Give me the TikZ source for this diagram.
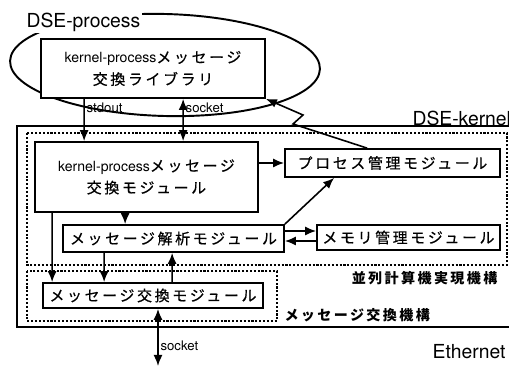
\documentclass[tikz,border=0pt]{standalone}
\usepackage{fontspec}
\setmainfont{TeX Gyre Heros}
\newfontfamily\jpfont{Noto Sans CJK JP}[Scale=1.06,LetterSpace=18,FakeBold=0.6]
\newfontfamily\jplabelfont{Noto Sans CJK JP}[LetterSpace=17]
\usetikzlibrary{arrows.meta,positioning,calc}
\newcommand{\jtxt}[1]{{\jpfont #1}}
\tikzset{
  modbox/.style 2 args={draw=black, fill=white, line width=1pt,
              minimum width=#1, minimum height=#2, inner sep=0pt,
              align=center, font=\fontsize{8}{12.5}\selectfont},
  kernelbox/.style={draw=black, line width=1.3pt},
  mechbox/.style={draw=black, densely dotted, line width=1.2pt},
  mechlbl/.style={inner sep=1pt, font=\fontsize{8}{10}\selectfont\jplabelfont\bfseries},
  tag/.style={inner sep=1pt, font=\fontsize{7.5}{8}\selectfont},
  bigtag/.style={inner sep=1pt, font=\fontsize{11}{13}\selectfont},
}

\begin{document}
\begin{tikzpicture}[>={Latex[length=2.2mm,width=1.8mm]}, line width=0.9pt]
  \useasboundingbox (0,0) rectangle (10.18,-7.34);
  \clip (0,0) rectangle (10.18,-7.34);
  % process side
  \draw[line width=1.1pt, rotate around={-1.5:(3.30,-1.30)}] (3.30,-1.30) ellipse [x radius=3.10, y radius=1.02];
  \node[bigtag, fill=white, anchor=west] (proclbl) at (0.48,-0.44) {DSE-process};
  \node[modbox={4.48cm}{1.18cm}] (lib) at (3.06,-1.37) {kernel-process\jtxt{メッセージ}\\\jtxt{交換ライブラリ}};
  % kernel frames
  \draw[kernelbox] (0.34,-2.52) rectangle (10.40,-6.54);
  \draw[mechbox] (0.54,-2.66) rectangle (10.14,-5.30);
  \draw[mechbox] (0.54,-5.42) rectangle (5.54,-6.42);
  \node[bigtag, anchor=west] (kernlbl) at (8.20,-2.36) {DSE-kernel};
  \node[mechlbl, anchor=east] (parlbl) at (10.00,-5.56) {並列計算機実現機構};
  \node[mechlbl, anchor=west] (xchglbl) at (5.64,-6.30) {メッセージ交換機構};
  % modules
  \node[modbox={4.46cm}{1.40cm}] (kpx) at (2.93,-3.54) {kernel-process\jtxt{メッセージ}\\\jtxt{交換モジュール}};
  \node[modbox={4.30cm}{0.56cm}] (proc) at (7.85,-3.26) {\jtxt{プロセス管理モジュール}};
  \node[modbox={4.42cm}{0.54cm}] (parse) at (3.47,-4.77) {\jtxt{メッセージ解析モジュール}};
  \node[modbox={3.66cm}{0.50cm}] (mem) at (8.17,-4.75) {\jtxt{メモリ管理モジュール}};
  \node[modbox={4.40cm}{0.50cm}] (msgx) at (3.06,-5.91) {\jtxt{メッセージ交換モジュール}};
  \coordinate (zig1) at (5.86,-2.48);
  \coordinate (zig2) at (6.06,-2.30);
  \coordinate (net) at (3.16,-7.32);
  \node[bigtag, anchor=east] (ethlbl) at (10.16,-7.04) {Ethernet};
  % connections
  \draw[->] ([xshift=8.8mm]lib.south west) -- node[tag, pos=0.2, anchor=west] (stdlbl) {stdout} ([xshift=10mm]kpx.north west);
  \draw[<->] ([xshift=28.6mm]lib.south west) -- node[tag, pos=0.2, anchor=west] (socklbl) {socket} ([xshift=29.8mm]kpx.north west);
  \draw[->] ([xshift=16.6mm]proc.north west) -- (zig1) -- (zig2) -- (lib.south east);
  \draw[->] (kpx.east |- proc.west) -- (proc.west);
  \draw[->] ([xshift=18.2mm]kpx.south west) -- ([xshift=12.6mm]parse.north west);
  \draw[->] (parse.north east) -- ([xshift=10mm]proc.south west);
  \draw[->] ([yshift=1.5mm]parse.east) -- ([yshift=1.3mm]mem.west);
  \draw[->] ([yshift=-0.7mm]mem.west) -- ([yshift=-0.5mm]parse.east);
  \draw[->] ([xshift=3.6mm]kpx.south west) -- ([xshift=2mm]msgx.north west);
  \draw[->] ([xshift=8.4mm]parse.south west) -- ([xshift=12.4mm]msgx.north west);
  \draw[->] ([xshift=26mm]msgx.north west) -- ([xshift=22mm]parse.south west);
  \draw[<->] ([xshift=1mm]msgx.south) -- node[tag, pos=0.65, anchor=west] (netlbl) {socket} (net);
\end{tikzpicture}
\end{document}
